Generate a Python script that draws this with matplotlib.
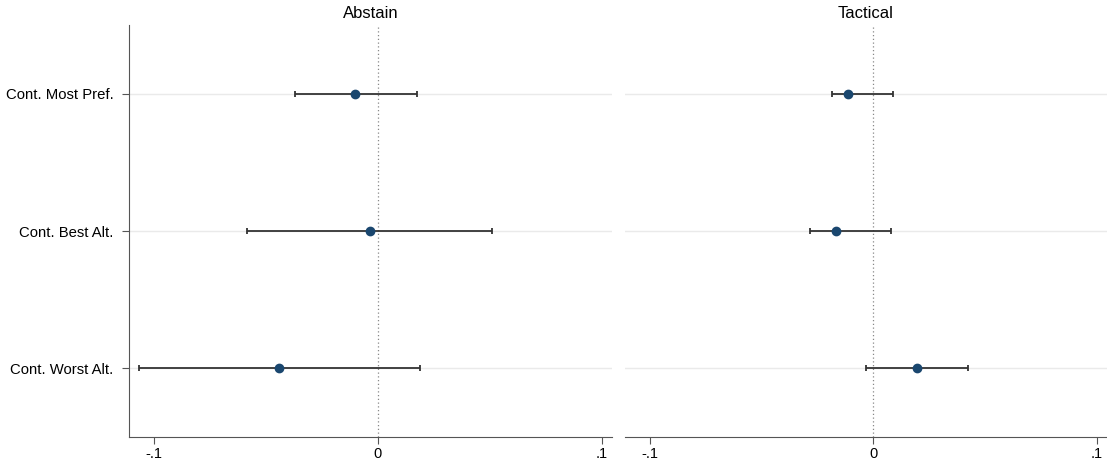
import matplotlib.pyplot as plt

plt.rcParams['font.family'] = ['Liberation Sans', 'DejaVu Sans']

categories = ["Cont. Most Pref.", "Cont. Best Alt.", "Cont. Worst Alt."]
panels = ["Abstain", "Tactical"]

abstain_est = [-0.0102, -0.0036, -0.0441]
abstain_lo = [-0.0370, -0.0584, -0.1065]
abstain_hi = [0.0174, 0.0508, 0.0187]

tactical_est = [-0.0111, -0.0165, 0.0196]
tactical_lo = [-0.0183, -0.0285, -0.0031]
tactical_hi = [0.0089, 0.0080, 0.0423]

est = [abstain_est, tactical_est]
lo = [abstain_lo, tactical_lo]
hi = [abstain_hi, tactical_hi]

fig = plt.figure(figsize=(11.07, 4.65), dpi=100)
ax1 = fig.add_axes([0.1165, 0.0602, 0.4363, 0.886])
ax2 = fig.add_axes([0.5646, 0.0602, 0.4354, 0.886])

ypos = [1, 2, 3]
for i, ax in enumerate([ax1, ax2]):
    for y in ypos:
        ax.axhline(y, color='#eaeaea', lw=1, zorder=0)
    ax.axvline(0, color='#888888', lw=0.9, ls=(0, (1, 2)), zorder=1)
    xerr = [[e - l for e, l in zip(est[i], lo[i])],
            [h - e for e, h in zip(est[i], hi[i])]]
    ax.errorbar(est[i], ypos, xerr=xerr, fmt='o', color='#1a476f',
                ms=6, ecolor='#333333', elinewidth=1.3, capsize=2.5,
                capthick=1.3, zorder=3)
    ax.set_xlim(-0.111, 0.1045)
    ax.set_ylim(3.5, 0.5)
    ax.set_xticks([-0.1, 0, 0.1])
    ax.set_xticklabels(["-.1", "0", ".1"], fontsize=10.5)
    ax.set_title(panels[i], fontsize=12, pad=5)
    for s in ['top', 'right']:
        ax.spines[s].set_visible(False)
    ax.spines['bottom'].set_color('#555555')
    ax.spines['left'].set_color('#555555')
    ax.tick_params(axis='x', length=5, color='#555555', pad=2)

ax1.set_yticks(ypos)
ax1.set_yticklabels(categories, fontsize=10.7)
ax1.tick_params(axis='y', length=5, color='#555555', pad=6)
ax2.spines['left'].set_visible(False)
ax2.set_yticks([])

fig.savefig("out.png", dpi=100)
